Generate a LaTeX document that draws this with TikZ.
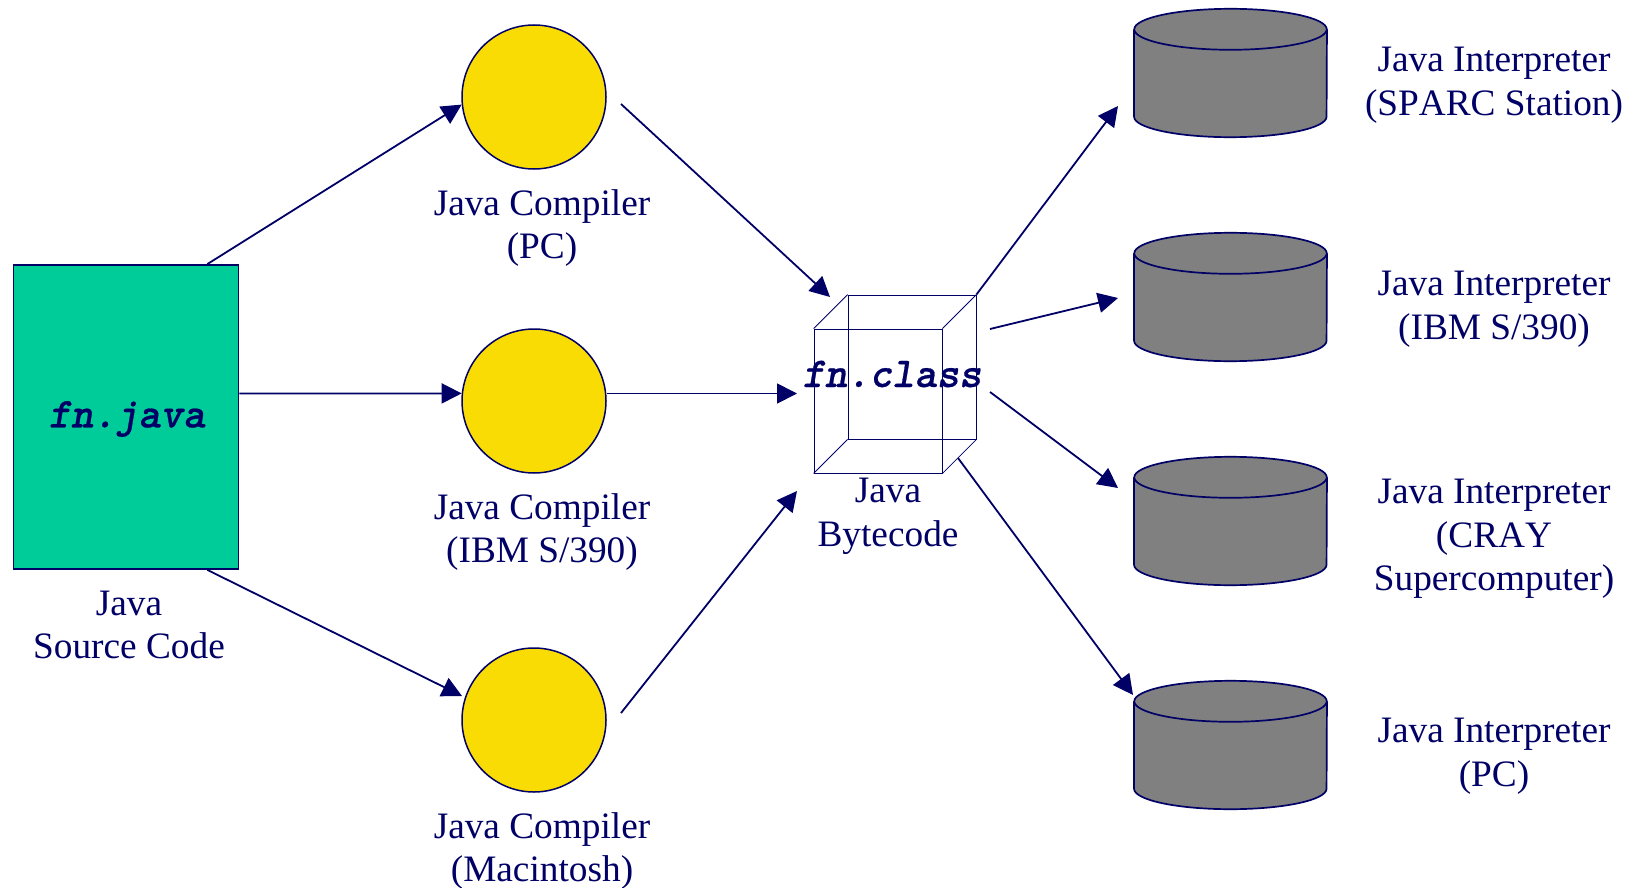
\documentclass[tikz,border=0pt]{standalone}
\usepackage{fontspec}
\setmainfont[Kerning=Off]{Liberation Serif}
\newfontface\codeface{lmmonolt10-boldoblique.otf}[FakeBold=0.6]
\usetikzlibrary{calc,positioning,arrows.meta}
\definecolor{inkblue}{RGB}{0,0,102}
\definecolor{srcgreen}{RGB}{0,204,153}
\definecolor{compyellow}{RGB}{250,220,5}
\definecolor{vmgray}{RGB}{128,128,128}
\tikzset{
    caption/.style={text=inkblue,align=center,inner sep=0pt,font=\fontsize{37.3}{43.7}\selectfont},
    filename/.style={text=inkblue,inner sep=0pt,font=\fontsize{42.6}{43}\selectfont\codeface},
    flow/.style={draw=inkblue,line width=1.8pt,-{Triangle[length=20pt,width=20pt]}},
    compiler/.style={circle,draw=inkblue,line width=1.5pt,fill=compyellow,minimum size=144pt,inner sep=0pt},
    interp/.style={inner sep=0pt,minimum width=192.5pt,minimum height=128pt},
    drumline/.style={draw=inkblue,line width=1.7pt,fill=vmgray},
    cubeface/.style={draw=inkblue,line width=0.8pt,inner sep=0pt,minimum width=128pt,minimum height=144pt},
    cubeedge/.style={draw=inkblue,line width=0.8pt}
}
\newcommand{\vmdrum}[1]{%
    \draw[drumline] ($(#1.north west)+(0,20.5)$) -- ($(#1.south west)+(0,-20.5)$)
        arc[start angle=180,end angle=360,x radius=96.25pt,y radius=20.5pt]
        -- ($(#1.north east)+(0,20.5)$);
    \draw[drumline] ($(#1.north)+(0,20.5)$) ellipse[x radius=96.25pt,y radius=20.5pt];
}
\begin{document}
\begin{tikzpicture}[x=1pt,y=-1pt]
    \useasboundingbox (0,0) rectangle (1632,888);

    \node[draw=inkblue,line width=1.7pt,fill=srcgreen,minimum width=225pt,minimum height=304pt,inner sep=0pt] (src) at (126,417) {};
    \node[filename] (srcname) at (127,419) {fn.java};
    \node[caption] (srclabel) at (129,625) {Java\\Source Code};

    \node[compiler] (comp1) at (534,97) {};
    \node[compiler] (comp2) at (534,401) {};
    \node[compiler] (comp3) at (534,720) {};
    \node[caption] (comp1label) at (542,228) {Java Compiler\\(PC)};
    \node[caption] (comp2label) at (542,532) {Java Compiler\\(IBM S/390)};
    \node[caption] (comp3label) at (542,851) {Java Compiler\\(Macintosh)};

    % cube
    \node[cubeface] (back) at (912,367) {};
    \node[cubeface] (front) at (878,401) {};
    \draw[cubeedge] (front.north west) -- (back.north west);
    \draw[cubeedge] (front.north east) -- (back.north east);
    \draw[cubeedge] (front.south west) -- (back.south west);
    \draw[cubeedge] (front.south east) -- (back.south east);
    \node[filename] (classname) at (892,374) {fn.class};
    \node[caption] (cubelabel) at (888,516.5) {Java\\Bytecode};

    \node[interp] (vm1) at (1230.5,73) {};
    \node[interp] (vm2) at (1230.5,297) {};
    \node[interp] (vm3) at (1230.5,521) {};
    \node[interp] (vm4) at (1230.5,745) {};
    \vmdrum{vm1}
    \vmdrum{vm2}
    \vmdrum{vm3}
    \vmdrum{vm4}
    \node[caption] (vm1label) at (1494,85) {Java Interpreter\\(SPARC Station)};
    \node[caption] (vm2label) at (1494,309) {Java Interpreter\\(IBM S/390)};
    \node[caption] (vm3label) at (1494,539) {Java Interpreter\\(CRAY\\Supercomputer)};
    \node[caption] (vm4label) at (1494,756.5) {Java Interpreter\\(PC)};

    \coordinate (comp1out) at ($(comp1)+(87,7)$);
    \coordinate (comp3in) at ($(comp3)+(-72,-24)$);
    \coordinate (comp3out) at ($(comp3)+(87,-7)$);
    \coordinate (cubein1) at (830,297);
    \coordinate (cubein2) at (797,393.5);
    \coordinate (cubein3) at (797,491);
    \coordinate (cubeout2) at (990,329);
    \coordinate (cubeout3) at (990,392);
    \coordinate (cubeout4) at (958,458);
    \coordinate (vmin1) at (1118,106);
    \coordinate (vmin2) at (1118,298);
    \coordinate (vmin3) at (1118,488);
    \coordinate (vmin4) at (1133,695);

    \draw[flow] (src.62.4) -- (comp1.186);
    \draw[flow] (src.east |- cubein2) -- (comp2.174);
    \draw[flow] (src.-62.4) -- (comp3in);

    \draw[flow] (comp1out) -- (cubein1);
    \draw[flow] (comp2.east |- cubein2) -- (cubein2);
    \draw[flow] (comp3out) -- (cubein3);

    \draw[flow] (back.north east) -- (vmin1);
    \draw[flow] (cubeout2) -- (vmin2);
    \draw[flow] (cubeout3) -- (vmin3);
    \draw[flow] (cubeout4) -- (vmin4);
\end{tikzpicture}
\end{document}
